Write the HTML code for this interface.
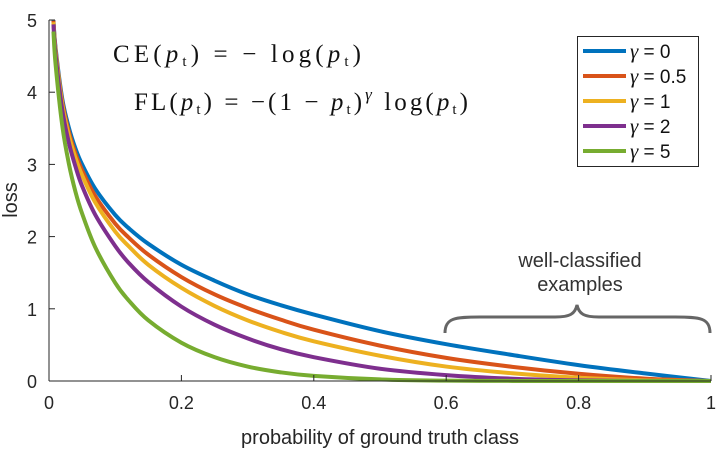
<!DOCTYPE html>
<html><head><meta charset="utf-8"><style>
html,body{margin:0;padding:0;background:#fff;}
svg{display:block;}
.sans{font-family:"Liberation Sans",sans-serif;}
.serif{font-family:"Liberation Serif",serif;}
</style></head><body>
<svg id="chart" width="722" height="451">
<g id="plot"></g>
<g id="axes" class="sans"></g>
<g class="serif" font-size="25" fill="#111">
<text x="113" y="62" textLength="248" lengthAdjust="spacing">CE(<tspan font-style="italic">p</tspan><tspan font-size="15" dy="4">t</tspan><tspan dy="-4">)  =  − log(</tspan><tspan font-style="italic">p</tspan><tspan font-size="15" dy="4">t</tspan><tspan dy="-4">)</tspan></text>
<text x="134" y="110" textLength="334" lengthAdjust="spacing">FL(<tspan font-style="italic">p</tspan><tspan font-size="15" dy="4">t</tspan><tspan dy="-4">)  =  −(1 − </tspan><tspan font-style="italic">p</tspan><tspan font-size="15" dy="4">t</tspan><tspan dy="-4">)</tspan><tspan font-style="italic" font-size="17" dy="-10">γ</tspan><tspan dy="10"> log(</tspan><tspan font-style="italic">p</tspan><tspan font-size="15" dy="4">t</tspan><tspan dy="-4">)</tspan></text>
</g>
<g class="sans">
<path d="M445,333 C445,318 455,317 480,317 L555,317 C570,317 575,314 577,305 C579,314 584,317 599,317 L675,317 C700,317 710,318 710,333" fill="none" stroke="#666" stroke-width="3"/>
<text x="580" y="267" text-anchor="middle" font-size="20" fill="#333">well-classified</text>
<text x="580" y="291" text-anchor="middle" font-size="20" fill="#333">examples</text>
</g>
<g id="legend" class="sans"></g>
</svg>
<script>
const pValues=[0.0067,0.01,0.02,0.03,0.04,0.05,0.07,0.1,0.12,0.15,0.2,0.25,0.3,0.35,0.4,0.5,0.6,0.7,0.8,0.9,1.0];
const gammaLabels=["0","0.5","1","2","5"];
const lossG0=[5.0,4.61,3.91,3.51,3.22,3.00,2.66,2.30,2.12,1.90,1.61,1.39,1.20,1.05,0.92,0.69,0.51,0.36,0.22,0.105,0];
const lossG05=[4.99,4.58,3.87,3.45,3.15,2.92,2.56,2.18,1.99,1.75,1.44,1.20,1.01,0.85,0.71,0.49,0.32,0.196,0.100,0.033,0];
const lossG1=[4.97,4.56,3.83,3.40,3.09,2.85,2.47,2.07,1.87,1.61,1.29,1.04,0.84,0.68,0.55,0.35,0.20,0.107,0.045,0.0105,0];
const lossG2=[4.94,4.51,3.76,3.30,2.97,2.70,2.30,1.87,1.64,1.37,1.03,0.78,0.59,0.44,0.33,0.17,0.082,0.032,0.009,0.001,0];
const lossG5=[4.84,4.38,3.54,3.01,2.62,2.32,1.85,1.36,1.12,0.84,0.53,0.33,0.20,0.12,0.071,0.022,0.005,0.0009,0,0,0];
const xTicks=[0,0.2,0.4,0.6,0.8,1];
const xTickLabels=["0","0.2","0.4","0.6","0.8","1"];
const yTicks=[0,1,2,3,4,5];
const yTickLabels=["0","1","2","3","4","5"];

const series=[lossG0,lossG05,lossG1,lossG2,lossG5];
const colors=["#0072BD","#D95319","#EDB120","#7E2F8E","#77AC30"];
const X0=49,X1=711,Y0=381,Y1=20;
const sx=v=>X0+(X1-X0)*v;
const sy=v=>Y0-(Y0-Y1)*v/5;
const NS="http://www.w3.org/2000/svg";
function mk(tag,attrs,parent){const e=document.createElementNS(NS,tag);for(const k in attrs)e.setAttribute(k,attrs[k]);parent.appendChild(e);return e;}
function smooth(pts){
  let d="M"+pts[0][0].toFixed(2)+","+pts[0][1].toFixed(2);
  for(let i=0;i<pts.length-1;i++){
    const p0=pts[Math.max(0,i-1)],p1=pts[i],p2=pts[i+1],p3=pts[Math.min(pts.length-1,i+2)];
    let c1x=p1[0]+(p2[0]-p0[0])/6,c1y=p1[1]+(p2[1]-p0[1])/6;
    let c2x=p2[0]-(p3[0]-p1[0])/6,c2y=p2[1]-(p3[1]-p1[1])/6;
    c1y=Math.min(c1y,Y0);c2y=Math.min(c2y,Y0);
    d+=" C"+c1x.toFixed(2)+","+c1y.toFixed(2)+" "+c2x.toFixed(2)+","+c2y.toFixed(2)+" "+p2[0].toFixed(2)+","+p2[1].toFixed(2);
  }
  return d;
}
const plot=document.getElementById('plot');
const clip=mk('clipPath',{id:'clipA'},mk('defs',{},plot));
mk('rect',{x:X0,y:Y1,width:X1-X0+3,height:Y0-Y1+2},clip);
const g=mk('g',{'clip-path':'url(#clipA)'},plot);
series.forEach((s,i)=>{
  const pts=pValues.map((p,j)=>[sx(p),sy(s[j])]);
  const path=mk('path',{d:smooth(pts),fill:'none',stroke:colors[i],'stroke-width':4,'stroke-linejoin':'round'},g);
  
  
});
const axes=document.getElementById('axes');
const xl=mk('line',{x1:X0,y1:Y0,x2:X1,y2:Y0,stroke:'#262626','stroke-width':1},axes);


const yl=mk('line',{x1:X0,y1:Y0,x2:X0,y2:Y1,stroke:'#262626','stroke-width':1},axes);


xTicks.forEach((v,i)=>{
  mk('line',{x1:sx(v),y1:Y0,x2:sx(v),y2:Y0-6,stroke:'#262626'},axes);
  const t=mk('text',{x:sx(v),y:Y0+28,'text-anchor':'middle','font-size':18,fill:'#262626'},axes);
  t.textContent=xTickLabels[i];
  
  
});
yTicks.forEach((v,i)=>{
  mk('line',{x1:X0,y1:sy(v),x2:X0+6,y2:sy(v),stroke:'#262626'},axes);
  const t=mk('text',{x:X0-12,y:sy(v)+7,'text-anchor':'end','font-size':18,fill:'#262626'},axes);
  t.textContent=yTickLabels[i];
  
  
});
const xt=mk('text',{x:380,y:444,'text-anchor':'middle','font-size':20,fill:'#262626'},axes);
xt.textContent='probability of ground truth class';


const yt=mk('text',{x:17,y:200,'text-anchor':'middle','font-size':20,fill:'#262626',transform:'rotate(-90 17 200)'},axes);
yt.textContent='loss';


const leg=document.getElementById('legend');
const box=mk('rect',{x:577.5,y:36.5,width:121,height:130,fill:'#fff',stroke:'#262626','stroke-width':1},leg);


gammaLabels.forEach((lab,i)=>{
  const y=51+25*i;
  const e=mk('g',{},leg);
  
  
  mk('line',{x1:583,y1:y,x2:626,y2:y,stroke:colors[i],'stroke-width':4},e);
  const t=mk('text',{x:630,y:y+7,'font-size':19,fill:'#111'},e);
  t.innerHTML='<tspan class="serif" font-style="italic" font-size="21">γ</tspan> = '+lab;
});
</script>
</body></html>
